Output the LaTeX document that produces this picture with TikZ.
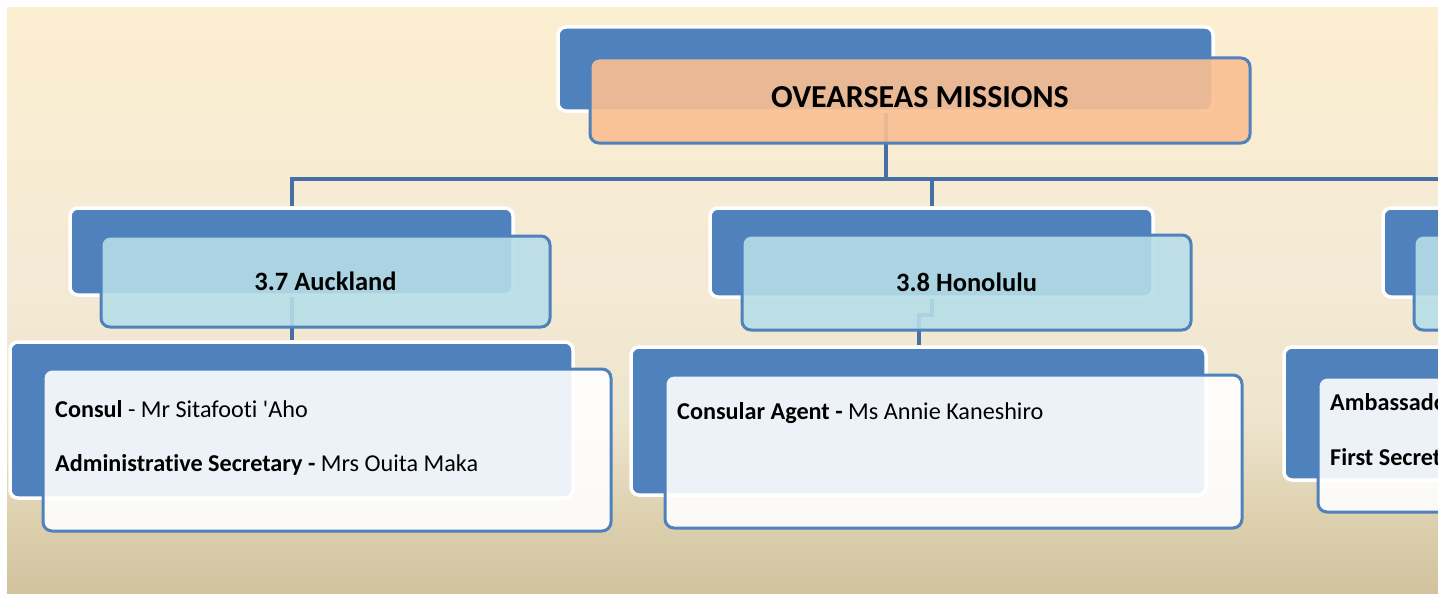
\documentclass[tikz,border=0pt]{standalone}
\usepackage{fontspec}
\setmainfont{Carlito}[Ligatures={CommonOff,TeXOff}]
\usepackage{tikz}
\usetikzlibrary{positioning,calc}
\pgfdeclarelayer{bg}
\pgfsetlayers{bg,main}
\definecolor{boxblue}{HTML}{4F81BD}
\definecolor{lineblue}{HTML}{4470A6}
\definecolor{titleorange}{HTML}{FABF91}
\definecolor{cityteal}{HTML}{B7DDE7}
\definecolor{bgtop}{HTML}{FCEED1}
\definecolor{bgmid}{HTML}{F4EAD5}
\definecolor{bglow}{HTML}{EEE5CE}
\definecolor{bgtan}{HTML}{DCCFAD}
\definecolor{bgbot}{HTML}{D2C39E}
\pgfdeclareverticalshading{bgshade}{100bp}{color(0bp)=(bgbot); color(25bp)=(bgbot);
  color(31bp)=(bgtan); color(40bp)=(bglow); color(52bp)=(bgmid); color(75bp)=(bgtop); color(100bp)=(bgtop)}

\begin{document}
\begin{tikzpicture}[x = 1pt, y = -1pt,
  backbox/.style = {draw=white, line width=3.5pt, fill=boxblue, rounded corners=8pt},
  frontbox/.style = {draw=boxblue, line width=3pt, fill opacity=.9, text opacity=1, rounded corners=9pt},
  titlebox/.style = {frontbox, fill=titleorange, text depth=6pt, font=\bfseries\fontsize{32}{38}\selectfont},
  citybox/.style = {frontbox, fill=cityteal, font=\bfseries\fontsize{26.5}{32}\selectfont},
  staffbox/.style = {frontbox, fill=white},
  staff/.style = {anchor=base west, inner sep=0pt, font=\fontsize{24.2}{29}\selectfont},
  conn/.style = {draw=lineblue, line width=4pt}]
\useasboundingbox (0, 0) rectangle (1438, 594);

\node[backbox, minimum width=655, minimum height=84] (omb) at (885.5, 69) {};
\node[titlebox, minimum width=660, minimum height=85] (om) at (920, 100.5) {OVEARSEAS MISSIONS};

% 3.7 Auckland
\node[backbox, minimum width=443, minimum height=87] (akb) at (291.5, 251.5) {};
\node[citybox, minimum width=449, minimum height=91] (ak) at (325.5, 281.5) {3.7 Auckland};
\node[backbox, minimum width=563, minimum height=156] (akdb) at (291.5, 420) {};
\node[staffbox, minimum width=568, minimum height=162] (akd) at (327, 450) {};
\node[staff] (ak1) at (55, 417) {\textbf{Consul} - Mr Sitafooti 'Aho};
\node[staff] (ak2) at (55, 471) {\textbf{Administrative Secretary -} Mrs Ouita Maka};

% 3.8 Honolulu
\node[backbox, minimum width=443, minimum height=89] (hnb) at (931.5, 252.5) {};
\node[citybox, minimum width=449, minimum height=95] (hn) at (966.5, 282.5) {3.8 Honolulu};
\node[backbox, minimum width=575, minimum height=148] (hndb) at (918.5, 421) {};
\node[staffbox, minimum width=577, minimum height=153] (hnd) at (953.5, 451.5) {};
\node[staff] (hn1) at (677, 419) {\textbf{Consular Agent -} Ms Annie Kaneshiro};

% next mission, cut off
\node[backbox, minimum width=443, minimum height=89] (thb) at (1604.5, 252.5) {};
\node[citybox, minimum width=448, minimum height=95] (th) at (1638, 282.5) {};
\node[backbox, minimum width=573, minimum height=133] (thdb) at (1570.5, 413.5) {};
\node[staffbox, minimum width=577, minimum height=135] (thd) at (1606.5, 444.5) {};
\node[staff] (th1) at (1330, 410) {\textbf{Ambassador}};
\node[staff] (th2) at (1330, 465) {\textbf{First Secretary}};

\coordinate (bus) at (885.5, 179);
\coordinate (hnj) at (918.5, 315);

\begin{pgfonlayer}{bg}
\shade[shading=bgshade] (7, 8) rectangle (1438, 594);
\draw[conn] (omb.center) -- (bus) -| (akb.north);
\draw[conn] (bus) -| (hnb.north);
\draw[conn] (bus) -| (thb.north);
\draw[conn] (akb.center) -- (akdb.north);
\draw[conn] (hnb.center) |- (hnj) -- (hndb.north);
\draw[conn] (thb.center) -- (thdb.north);
\end{pgfonlayer}
\end{tikzpicture}
\end{document}
